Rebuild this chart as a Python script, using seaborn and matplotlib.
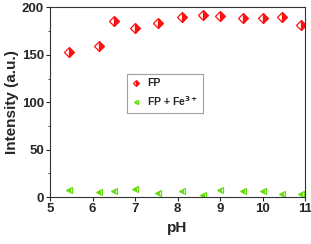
import numpy as np
import pandas as pd
import matplotlib
matplotlib.use("Agg")
import matplotlib.pyplot as plt
import seaborn as sns
from matplotlib.ticker import MultipleLocator

ph = [5.45, 6.15, 6.5, 7.0, 7.55, 8.1, 8.6, 9.0, 9.55, 10.0, 10.45, 10.9]
fp = [153, 159, 186, 178, 184, 190, 192, 191, 189, 189, 190, 181]
fp_fe = [8, 5, 7, 9, 4, 6, 2, 8, 7, 6, 3, 3]

sns.set_style("ticks")
plt.rcParams['font.family'] = ['Liberation Sans', 'DejaVu Sans']
plt.rcParams['font.weight'] = 'bold'

fig, ax = plt.subplots(figsize=(3.11, 2.44), dpi=100)
fig.subplots_adjust(left=0.161, right=0.981, top=0.97, bottom=0.192)

df = pd.DataFrame({"pH": ph, "FP": fp, "FP + Fe$^{3+}$": fp_fe})
ax.plot(df["pH"], df["FP"], linestyle="none", marker="D", markersize=5,
        color="#ff1010", markerfacecolor="#ff1010", markerfacecoloralt="white",
        fillstyle="right", markeredgewidth=0.9, label="FP")
ax.plot(df["pH"], df["FP + Fe$^{3+}$"], linestyle="none", marker="<", markersize=5,
        color="#66dd11", markerfacecolor="#66dd11", markerfacecoloralt="white",
        fillstyle="left", markeredgewidth=0.9, label="FP + Fe$^{3+}$")

ax.set_xlim(5, 11)
ax.set_ylim(0, 200)
ax.xaxis.set_major_locator(MultipleLocator(1))
ax.yaxis.set_major_locator(MultipleLocator(50))
ax.yaxis.set_minor_locator(MultipleLocator(25))
ax.tick_params(axis="both", which="major", labelsize=9.5, length=3, width=0.8,
               direction="out", pad=1.5)
ax.tick_params(axis="y", which="minor", length=1.5, width=0.6, direction="out")
for lab in ax.get_xticklabels() + ax.get_yticklabels():
    lab.set_fontweight("bold")
for s in ax.spines.values():
    s.set_visible(True)
    s.set_linewidth(0.8)
    s.set_color("#333333")

ax.set_xlabel("pH", fontsize=11, fontweight="bold", labelpad=4)
ax.set_ylabel("Intensity (a.u.)", fontsize=11, fontweight="bold", labelpad=2)

leg = ax.legend(loc="upper left", bbox_to_anchor=(0.3, 0.65), borderaxespad=0,
                fontsize=7.5, frameon=True, fancybox=False, edgecolor="#888888",
                handletextpad=0.6, borderpad=0.45, labelspacing=0.55,
                handlelength=0.9, markerscale=0.6)
leg.get_frame().set_linewidth(0.8)

fig.savefig("out.png", dpi=100)
